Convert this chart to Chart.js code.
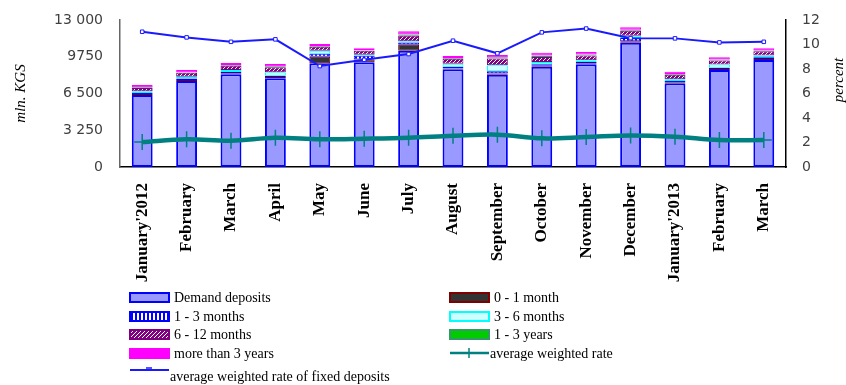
<!DOCTYPE html>
<html>
<head>
<meta charset="utf-8">
<script src="https://cdn.jsdelivr.net/npm/chart.js@4"></script>
<style>
  html, body { margin: 0; padding: 0; background: #fff; }
  #wrap { width: 846px; height: 385px; position: relative; }
</style>
</head>
<body>
<div id="wrap"><canvas id="depChart" width="846" height="385"></canvas></div>
<script>
var months = ["January'2012", "February", "March", "April", "May", "June", "July", "August",
              "September", "October", "November", "December", "January'2013", "February", "March"];

// mln. KGS
var demand   = [6365, 7600, 8195, 7840, 9165, 9255, 10280, 8640, 8160, 8870, 9080, 10990, 7400, 8575, 9460];
var m0_1     = [90, 100, 90, 110, 590, 250, 530, 60, 100, 90, 90, 120, 90, 90, 100];
var m1_3     = [90, 120, 110, 130, 250, 330, 200, 160, 200, 120, 110, 300, 120, 110, 150];
var m3_6     = [150, 160, 190, 300, 280, 100, 100, 260, 530, 200, 160, 200, 160, 280, 150];
var m6_12    = [300, 350, 380, 450, 350, 340, 500, 450, 610, 450, 430, 440, 390, 370, 370];
var y1_3     = [60, 60, 60, 80, 60, 40, 100, 60, 100, 120, 80, 80, 70, 80, 70];
var y3plus   = [194, 183, 170, 195, 178, 178, 285, 185, 201, 257, 217, 221, 196, 192, 194];

// percent
var avgRate   = [2.04, 2.26, 2.15, 2.39, 2.26, 2.31, 2.39, 2.55, 2.64, 2.34, 2.45, 2.58, 2.47, 2.2, 2.2];
var fixedRate = [11.04, 10.58, 10.22, 10.42, 8.24, 8.75, 9.22, 10.31, 9.28, 10.99, 11.3, 10.52, 10.5, 10.17, 10.22];

var leftTicks = [0, 3250, 6500, 9750, 13000];
var leftTickLabels = ['0', '3 250', '6 500', '9750', '13 000'];
var rightTicks = [0, 2, 4, 6, 8, 10, 12];

function makePattern(bg, draw) {
	var c = document.createElement('canvas');
	c.width = 4; c.height = 4;
	var p = c.getContext('2d');
	p.fillStyle = bg;
	p.fillRect(0, 0, 4, 4);
	p.fillStyle = '#fff';
	draw(p);
	return p.createPattern(c, 'repeat');
}

var stripes = makePattern('#0000ff', function (p) { p.fillRect(1, 0, 2, 4); });
var hatch = makePattern('#800080', function (p) {
	p.fillRect(0, 3, 1, 1); p.fillRect(1, 2, 1, 1); p.fillRect(2, 1, 1, 1); p.fillRect(3, 0, 1, 1);
});

function bar(label, data, bg, border, bw) {
	return {
		type: 'bar', label: label, data: data, yAxisID: 'y', stack: 'dep', order: 2,
		backgroundColor: bg, borderColor: border, borderWidth: bw, borderSkipped: false
	};
}

var datasets = [
	bar('Demand deposits', demand, '#9999ff', '#0000ff', 2),
	bar('0 - 1 month', m0_1, '#333333', '#800000', 1),
	bar('1 - 3 months', m1_3, stripes, '#0000ff', 1),
	bar('3 - 6 months', m3_6, '#ccffff', '#00ffff', 1),
	bar('6 - 12 months', m6_12, hatch, '#800080', 1),
	bar('1 - 3 years', y1_3, '#00cc00', '#339966', 1),
	bar('more than 3 years', y3plus, '#ff00ff', '#ff00ff', 1),
	{
		type: 'line', label: 'average weighted rate', data: avgRate, yAxisID: 'y1', order: 0,
		borderColor: '#008080', borderWidth: 4.5, tension: 0.35, fill: false,
		pointStyle: 'cross', pointRadius: 8, pointBorderWidth: 1.5, pointBorderColor: '#008080'
	},
	{
		type: 'line', label: 'average weighted rate of fixed deposits', data: fixedRate, yAxisID: 'y1', order: 1,
		borderColor: '#1a1aff', borderWidth: 2, tension: 0, fill: false,
		pointStyle: 'rect', pointRadius: 2.5, pointBorderWidth: 1, pointBorderColor: '#1a1aff', pointBackgroundColor: '#ffffff'
	}
];

// legend drawn below the plot in two columns, like the original
var legendRows = [297, 316, 334, 353, 376];
var bottomLegend = {
	id: 'bottomLegend',
	afterDraw: function (chart) {
		var ctx = chart.ctx;
		ctx.save();
		ctx.font = '14px "Liberation Serif"';
		ctx.textBaseline = 'middle';
		ctx.textAlign = 'left';
		chart.data.datasets.forEach(function (ds, i) {
			var col = i < 8 ? i % 2 : 0;
			var row = Math.floor(i / 2);
			var x = col ? 450 : 130;
			var y = legendRows[row];
			if (ds.type === 'bar') {
				ctx.fillStyle = ds.backgroundColor;
				ctx.fillRect(x, y - 4, 39, 9);
				ctx.strokeStyle = ds.borderColor;
				ctx.lineWidth = 2;
				ctx.strokeRect(x, y - 4, 39, 9);
				ctx.fillStyle = '#000';
				ctx.fillText(ds.label, x + 44, y + 1);
			} else {
				var ly = i === 8 ? y - 6 : y;
				ctx.strokeStyle = ds.borderColor;
				ctx.lineWidth = i === 8 ? 2 : 2.5;
				ctx.beginPath(); ctx.moveTo(x, ly); ctx.lineTo(x + 39, ly); ctx.stroke();
				ctx.lineWidth = 1.5;
				ctx.beginPath();
				if (i === 7) {
					ctx.moveTo(x + 19, ly - 5); ctx.lineTo(x + 19, ly + 5);
				} else {
					ctx.moveTo(x + 16, ly - 2); ctx.lineTo(x + 22, ly - 2);
				}
				ctx.stroke();
				ctx.fillStyle = '#000';
				ctx.fillText(ds.label, x + 40, y + 1);
			}
		});
		// right axis title
		ctx.font = 'italic 15px "Liberation Serif"';
		ctx.textAlign = 'center';
		ctx.translate(839, 80);
		ctx.rotate(-Math.PI / 2);
		ctx.fillStyle = '#000';
		ctx.fillText('percent', 0, 0);
		ctx.restore();
	}
};

var ctx = document.getElementById('depChart').getContext('2d');
var depChart = new Chart(ctx, {
	data: { labels: months, datasets: datasets },
	plugins: [bottomLegend],
	options: {
		responsive: false,
		animation: false,
		layout: { padding: { top: 20, left: 0, right: 0, bottom: 0 } },
		plugins: { legend: { display: false }, tooltip: { enabled: false } },
		datasets: { bar: { barPercentage: 0.47, categoryPercentage: 1 } },
		scales: {
			x: {
				stacked: true,
				grid: { display: false, drawTicks: true, tickLength: 6, color: '#000' },
				border: { color: '#000', width: 1.5 },
				ticks: {
					minRotation: 90, maxRotation: 90, autoSkip: false, padding: 10,
					color: '#000', font: { family: '"Liberation Serif"', size: 17, weight: 'bold' }
				},
				afterFit: function (s) { s.height = 218; }
			},
			y: {
				position: 'left', stacked: true, min: 0, max: 13000,
				grid: { display: false, drawTicks: true, tickLength: 6 },
				border: { color: '#666', width: 1.5 },
				afterBuildTicks: function (s) { s.ticks = leftTicks.map(function (v) { return { value: v }; }); },
				ticks: {
					padding: 11, color: '#404040', font: { family: '"DejaVu Sans"', size: 14 },
					callback: function (v) { return leftTickLabels[leftTicks.indexOf(v)]; }
				},
				title: {
					display: true, text: 'mln. KGS', color: '#000',
					font: { family: '"Liberation Serif"', size: 15, style: 'italic' },
					padding: { top: 12, bottom: 4 }
				},
				afterFit: function (s) { s.width = 120; }
			},
			y1: {
				position: 'right', min: 0, max: 12,
				grid: { display: false, drawTicks: true, tickLength: 6 },
				border: { color: '#000', width: 1.5 },
				afterBuildTicks: function (s) { s.ticks = rightTicks.map(function (v) { return { value: v }; }); },
				ticks: { padding: 10, color: '#404040', font: { family: '"DejaVu Sans"', size: 14 } },
				afterFit: function (s) { s.width = 60; }
			}
		}
	}
});
</script>
</body>
</html>
